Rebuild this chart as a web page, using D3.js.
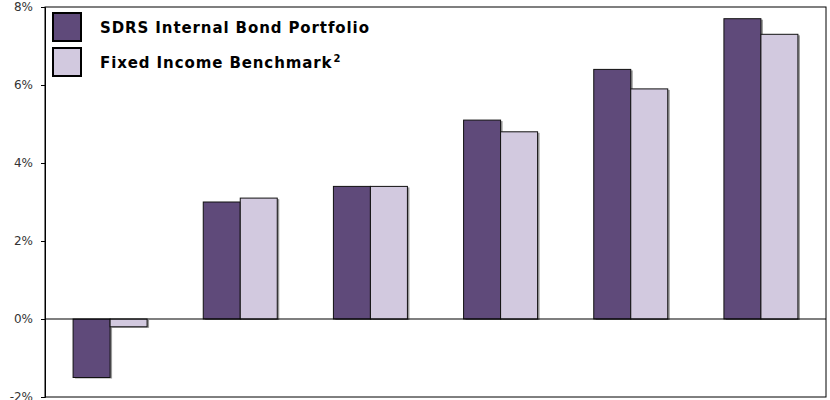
<!DOCTYPE html>
<html>
<head>
<meta charset="utf-8">
<script src="https://cdn.jsdelivr.net/npm/d3@7"></script>
<style>
  html, body { margin: 0; padding: 0; background: #fff; }
  svg { display: block; }
</style>
</head>
<body>
<svg id="chart" width="830" height="400"></svg>
<script>
// Annualised returns per period (no period labels are shown on the axis)
const periods = ["P1", "P2", "P3", "P4", "P5", "P6"];
const seriesNames = ["SDRS Internal Bond Portfolio", "Fixed Income Benchmark"];
const portfolio = [-1.5, 3.0, 3.4, 5.1, 6.4, 7.7];
const benchmark = [-0.2, 3.1, 3.4, 4.8, 5.9, 7.3];
const yTicks = [-2, 0, 2, 4, 6, 8];

const colors = ["#5f4a7a", "#d2c9df"];
const series = [portfolio, benchmark];

const svg = d3.select("#chart");
const plot = { left: 45, right: 826, top: 7, bottom: 397 };

const y = d3.scaleLinear().domain([-2, 8]).range([plot.bottom, plot.top]);
const x0 = d3.scaleBand().domain(periods).range([plot.left, plot.right])
  .paddingInner(0.4315).paddingOuter(0.4315 / 2);
const x1 = d3.scaleBand().domain([0, 1]).range([0, x0.bandwidth()]);

// Plot frame
svg.append("rect")
  .attr("x", plot.left).attr("y", plot.top)
  .attr("width", plot.right - plot.left).attr("height", plot.bottom - plot.top)
  .attr("fill", "none").attr("stroke", "#000").attr("stroke-width", 1);

// Y axis with percent labels
const yAxis = d3.axisLeft(y).tickValues(yTicks)
  .tickFormat(d => d + "%").tickSize(4).tickPadding(8);
const gy = svg.append("g").attr("transform", `translate(${plot.left},0)`).call(yAxis);
gy.select(".domain").attr("stroke", "#000");
gy.selectAll(".tick line").attr("stroke", "#000");
gy.selectAll(".tick text")
  .attr("fill", "#333")
  .style("font-family", "'DejaVu Sans', sans-serif")
  .style("font-size", "12px");

// Bars with a soft grey drop edge
const groups = svg.append("g").selectAll("g")
  .data(periods).join("g")
  .attr("transform", d => `translate(${x0(d)},0)`);

groups.each(function (p, i) {
  const g = d3.select(this);
  series.forEach((vals, s) => {
    const v = vals[i];
    const y0 = y(Math.max(0, v)), y1 = y(Math.min(0, v));
    g.append("rect")
      .attr("x", x1(s) + 2).attr("y", y0 + 1)
      .attr("width", x1.bandwidth()).attr("height", y1 - y0)
      .attr("fill", "#9a9a9a");
    g.append("rect")
      .attr("x", x1(s)).attr("y", y0)
      .attr("width", x1.bandwidth()).attr("height", y1 - y0)
      .attr("fill", colors[s]).attr("stroke", "#111").attr("stroke-width", 1);
  });
});

// Zero line
svg.append("line")
  .attr("x1", plot.left).attr("x2", plot.right)
  .attr("y1", y(0)).attr("y2", y(0))
  .attr("stroke", "#000").attr("stroke-width", 1.2);

// Legend
const legend = svg.append("g");
seriesNames.forEach((name, s) => {
  const ly = 13 + s * 35;
  legend.append("rect")
    .attr("x", 53).attr("y", ly).attr("width", 28).attr("height", 28)
    .attr("fill", colors[s]).attr("stroke", "#000").attr("stroke-width", 2);
  const t = legend.append("text")
    .attr("x", 100).attr("y", ly + 20)
    .style("font-family", "'DejaVu Sans', sans-serif")
    .style("font-weight", "bold")
    .style("font-size", "15px")
    .style("letter-spacing", "0.9px").attr("fill", "#000")
    .text(name);
  if (s === 1) {
    t.append("tspan").attr("dx", 1).attr("dy", -6).style("font-size", "10px").text("2");
  }
});
</script>
</body>
</html>
